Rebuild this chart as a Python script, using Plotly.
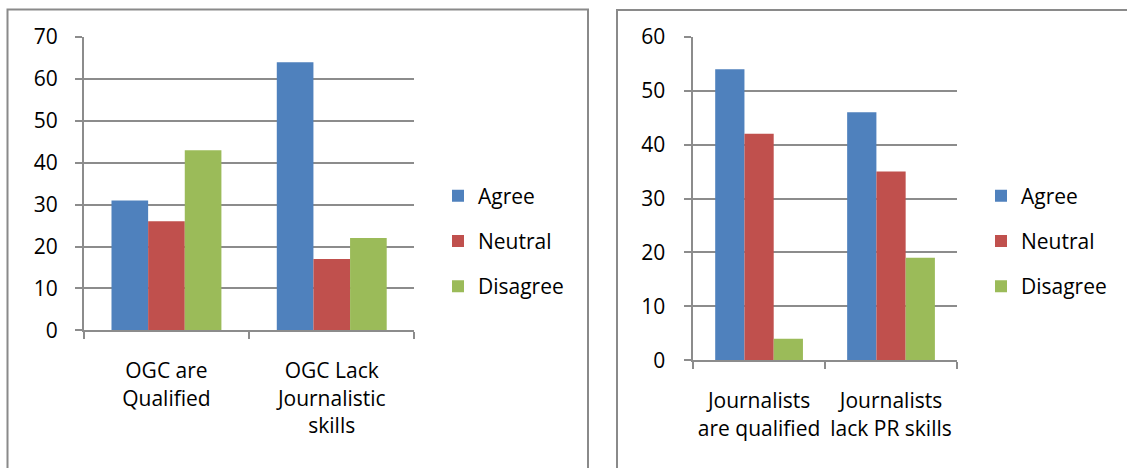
import plotly.graph_objects as go

# Survey responses (percent) for the two statements in each panel
series_names = ["Agree", "Neutral", "Disagree"]
series_colors = ["#4F81BD", "#C0504D", "#9BBB59"]

ogc_categories = ["OGC are<br>Qualified", "OGC Lack<br>Journalistic<br>skills"]
ogc_agree = [31, 64]
ogc_neutral = [26, 17]
ogc_disagree = [43, 22]
ogc_ticks = [0, 10, 20, 30, 40, 50, 60, 70]

journ_categories = ["Journalists<br>are qualified", "Journalists<br>lack PR skills"]
journ_agree = [54, 46]
journ_neutral = [42, 35]
journ_disagree = [4, 19]
journ_ticks = [0, 10, 20, 30, 40, 50, 60]

W, H = 1127, 468
FONT = "Open Sans"
FS = 21
GRID = "#8c8c8c"


def px(x):
    return x / W


def py(y):
    return (H - y) / H


fig = go.Figure()

left_values = [ogc_agree, ogc_neutral, ogc_disagree]
right_values = [journ_agree, journ_neutral, journ_disagree]

for name, color, vals in zip(series_names, series_colors, left_values):
    fig.add_trace(go.Bar(
        x=ogc_categories, y=vals, name=name, marker_color=color,
        marker_line_width=0, xaxis="x", yaxis="y",
        legend="legend", legendgroup="L" + name,
    ))

for name, color, vals in zip(series_names, series_colors, right_values):
    fig.add_trace(go.Bar(
        x=journ_categories, y=vals, name=name, marker_color=color,
        marker_line_width=0, xaxis="x2", yaxis="y2",
        legend="legend2", legendgroup="R" + name,
    ))

axis_common = dict(
    showline=True, linecolor=GRID, linewidth=1.5,
    ticks="outside", ticklen=7, tickwidth=1.5, tickcolor=GRID,
    tickfont=dict(family=FONT, size=FS, color="#000000"),
    automargin=False, fixedrange=True,
)

fig.update_layout(
    width=W, height=H,
    margin=dict(l=0, r=0, t=0, b=0, autoexpand=False),
    paper_bgcolor="white", plot_bgcolor="white",
    barmode="group", bargap=0.335, bargroupgap=0,
    font=dict(family=FONT, size=FS, color="#000000"),
    xaxis=dict(domain=[px(83.8), px(414.4)], anchor="y", type="category",
               tickson="boundaries", ticklabelstandoff=21, showgrid=False,
               tickangle=0, **axis_common),
    yaxis=dict(domain=[py(330.3), py(37)], anchor="x", range=[0, 70],
               tickvals=ogc_ticks, showgrid=True, gridcolor=GRID, gridwidth=1.5,
               zeroline=False, ticklabelstandoff=13, **axis_common),
    xaxis2=dict(domain=[px(693.1), px(957.0)], anchor="y2", type="category",
                tickson="boundaries", ticklabelstandoff=21, showgrid=False,
                tickangle=0, **axis_common),
    yaxis2=dict(domain=[py(360.3), py(36.8)], anchor="x2", range=[0, 60],
                tickvals=journ_ticks, showgrid=True, gridcolor=GRID, gridwidth=1.5,
                zeroline=False, ticklabelstandoff=15, **axis_common),
    legend=dict(x=px(438), xanchor="left", y=py(241), yanchor="middle",
                traceorder="grouped", tracegroupgap=15, bgcolor="rgba(0,0,0,0)",
                font=dict(family=FONT, size=FS, color="#000000")),
    legend2=dict(x=px(981), xanchor="left", y=py(241), yanchor="middle",
                 traceorder="grouped", tracegroupgap=15, bgcolor="rgba(0,0,0,0)",
                 font=dict(family=FONT, size=FS, color="#000000")),
    shapes=[
        dict(type="rect", xref="paper", yref="paper",
             x0=px(7.5), x1=px(588), y0=-0.2, y1=py(9.5),
             line=dict(color="#8a8a8a", width=2), fillcolor="rgba(0,0,0,0)"),
        dict(type="rect", xref="paper", yref="paper",
             x0=px(617), x1=1.2, y0=-0.2, y1=py(10),
             line=dict(color="#8a8a8a", width=2), fillcolor="rgba(0,0,0,0)"),
    ],
)

fig.write_html("out.html")
